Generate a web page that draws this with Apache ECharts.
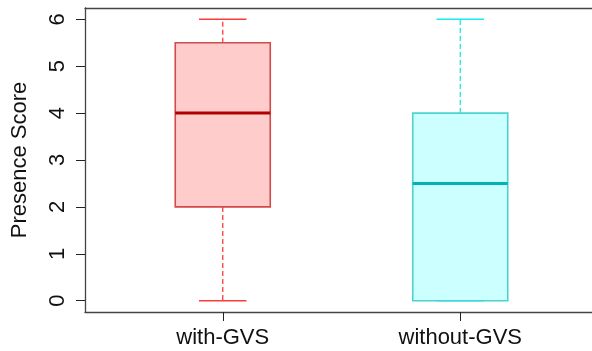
<!DOCTYPE html>
<html>
<head>
<meta charset="utf-8">
<script src="https://cdn.jsdelivr.net/npm/echarts@6/dist/echarts.min.js"></script>
<style>html,body{margin:0;padding:0;background:#fff;}#c{width:592px;height:351px;}</style>
</head>
<body>
<div id="c"></div>
<script>
const categories = ['with-GVS', 'without-GVS'];
const minVals = [0, 0];
const q1Vals = [2, 0];
const medianVals = [4, 2.5];
const q3Vals = [5.5, 4];
const maxVals = [6, 6];
const yTicks = [0, 1, 2, 3, 4, 5, 6];
const xTicks = [1, 2];

const palette = [
  { fill: '#FFCCCC', border: '#D44A4A', median: '#B00000', whisker: '#FF3A3A' },
  { fill: '#CCFFFF', border: '#4CD2D2', median: '#00B2B2', whisker: '#19ECEC' }
];
const FONT = 'Liberation Sans, Arial, sans-serif';
const FRAME = { show: true, onZero: false, lineStyle: { color: '#444', width: 1.3 } };

const data = categories.map((c, i) => [i + 1, minVals[i], q1Vals[i], medianVals[i], q3Vals[i], maxVals[i]]);

function renderItem(params, api) {
  const i = params.dataIndex;
  const x = api.value(0);
  const pMin = api.coord([x, api.value(1)]);
  const pQ1 = api.coord([x, api.value(2)]);
  const pMed = api.coord([x, api.value(3)]);
  const pQ3 = api.coord([x, api.value(4)]);
  const pMax = api.coord([x, api.value(5)]);
  const halfBox = api.size([0.2, 0])[0];
  const halfCap = api.size([0.1, 0])[0];
  const col = palette[i];
  const cx = pMed[0];
  const children = [];
  children.push({ type: 'line', shape: { x1: cx, y1: pQ3[1], x2: cx, y2: pMax[1] },
    style: { stroke: col.whisker, lineWidth: 1.3, lineDash: [5, 3] } });
  children.push({ type: 'line', shape: { x1: cx, y1: pQ1[1], x2: cx, y2: pMin[1] },
    style: { stroke: col.whisker, lineWidth: 1.3, lineDash: [5, 3] } });
  children.push({ type: 'line', shape: { x1: cx - halfCap, y1: pMax[1], x2: cx + halfCap, y2: pMax[1] },
    style: { stroke: col.whisker, lineWidth: 1.5 } });
  children.push({ type: 'line', shape: { x1: cx - halfCap, y1: pMin[1], x2: cx + halfCap, y2: pMin[1] },
    style: { stroke: col.whisker, lineWidth: 1.5 } });
  children.push({ type: 'rect', shape: { x: cx - halfBox, y: pQ3[1], width: 2 * halfBox, height: pQ1[1] - pQ3[1] },
    style: { fill: col.fill, stroke: col.border, lineWidth: 1.6 } });
  children.push({ type: 'line', shape: { x1: cx - halfBox, y1: pMed[1], x2: cx + halfBox, y2: pMed[1] },
    style: { stroke: col.median, lineWidth: 3 } });
  return { type: 'group', children: children };
}

const chart = echarts.init(document.getElementById('c'), null, { renderer: 'canvas' });
chart.setOption({
  animation: false,
  backgroundColor: '#fff',
  grid: { left: 85, top: 8, width: 513, height: 304, show: false, outerBoundsMode: 'none', containLabel: false },
  xAxis: [{
    type: 'value', min: 0.42, max: 2.58, position: 'bottom',
    axisLine: FRAME,
    splitLine: { show: false },
    axisTick: { show: true, customValues: xTicks, length: 9, lineStyle: { color: '#222', width: 1 } },
    axisLabel: { customValues: xTicks, formatter: v => categories[Math.round(v) - 1], fontSize: 22, margin: 15, color: '#111', fontFamily: FONT }
  }, {
    type: 'value', min: 0.42, max: 2.58, position: 'top',
    axisLine: FRAME, splitLine: { show: false }, axisTick: { show: false }, axisLabel: { show: false }
  }],
  yAxis: [{
    type: 'value', min: -0.24, max: 6.24, position: 'left',
    name: 'Presence Score', nameLocation: 'middle', nameRotate: 90, nameGap: 54,
    nameTextStyle: { fontSize: 22, color: '#111', fontFamily: FONT },
    axisLine: FRAME,
    splitLine: { show: false },
    axisTick: { show: true, customValues: yTicks, length: 9, lineStyle: { color: '#222', width: 1 } },
    axisLabel: { customValues: yTicks, rotate: 90, fontSize: 22, margin: 16, color: '#111', fontFamily: FONT }
  }, {
    type: 'value', min: -0.24, max: 6.24, position: 'right',
    axisLine: FRAME, splitLine: { show: false }, axisTick: { show: false }, axisLabel: { show: false }
  }],
  series: [{
    type: 'custom',
    renderItem: renderItem,
    xAxisIndex: 0, yAxisIndex: 0,
    encode: { x: 0, y: [1, 2, 3, 4, 5] },
    data: data,
    clip: false
  }]
});
</script>
</body>
</html>
